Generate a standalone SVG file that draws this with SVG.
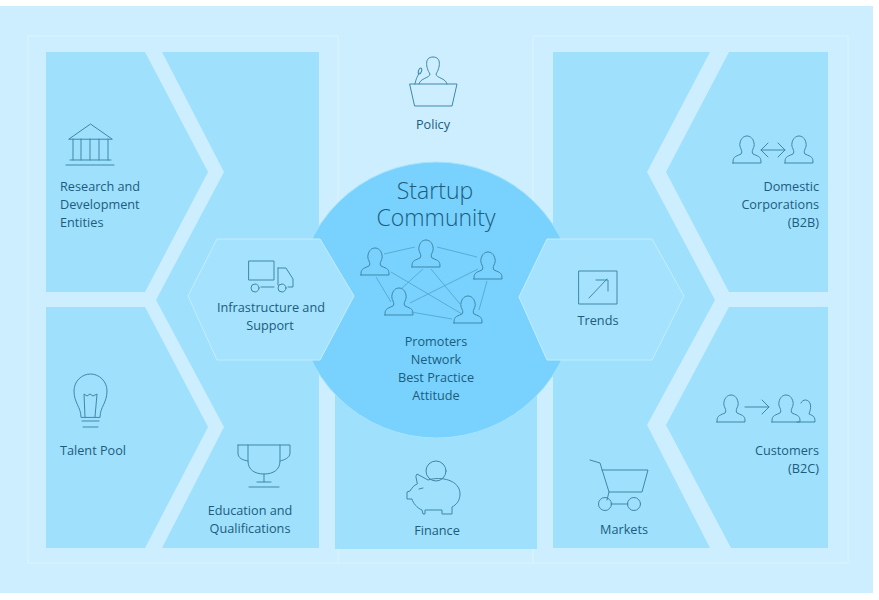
<svg xmlns="http://www.w3.org/2000/svg" width="879" height="600" viewBox="0 0 879 600">
<style>
text{font-family:"Open Sans","Noto Sans","DejaVu Sans",sans-serif;font-size:12.7px;fill:#1c5c7d}
.m{text-anchor:middle}.e{text-anchor:end}
.p{fill:#9fe0fd}
.f{fill:none;stroke:#d9f3ff;stroke-width:1}
.i{fill:none;stroke:#3f87a9;stroke-width:1;stroke-linejoin:round;stroke-linecap:round}
.c{stroke:#55a7cf;stroke-width:.9;fill:none}
.h{fill:#a4e2fd;stroke:#c4edff;stroke-width:1}
</style>
<defs>
<path id="person" d="M0 27H28C28 21 27 21 20 18C19 17 19 15 20 13C21 11 21.500 9 21 7C20 2 17 0 14 0C11 0 8 2 7 7C6.500 9 7 11 8 13C9 15 9 17 8 18C1 21 0 21 0 27Z"/>
</defs>
<rect width="879" height="600" fill="#fff"/>
<rect x="0" y="6" width="873" height="587" fill="#cdeefe"/>
<rect class="f" x="28" y="36" width="310" height="527"/>
<rect class="f" x="533" y="36" width="315" height="527"/>
<path class="f" d="M338 563H533"/>
<g id="research"><polygon class="p" points="46,52 145,52 208,172 145,292 46,292"/>
<g class="i"><path d="M69 139L90.500 124L112 139ZM73 139V160M81 139V160M90 139V160M99 139V160M108 139V160M70 160H111M66 165H114"/></g>
<text x="60" y="191">Research and</text><text x="60" y="209">Development</text><text x="60" y="227">Entities</text></g>
<g id="talent"><polygon class="p" points="46,307 145,307 208,427 145,548 46,548"/>
<g class="i"><path d="M81 417C81 407 74 403 74 391C74 381 82 374 90.500 374C99 374 107 381 107 391C107 403 100 407 100 417ZM85 417L84 394L87 396L90 394L93 396L97 394L95 417M82 421H99M83 427H98"/></g>
<text x="60" y="455">Talent Pool</text></g>
<g id="education"><polygon class="p" points="162,52 319,52 319,548 162,548 224,427 156,300 224,172"/>
<g class="i"><path d="M248 445V461C248 470 255 474 264 474C273 474 280 470 280 461V445M238 445H290V453C290 458 284 460 280 461M238 445V453C238 458 242 460 248 461M264 474V482M257 482H271M249 487H279"/></g>
<text class="m" x="250" y="515">Education and</text><text class="m" x="250" y="533">Qualifications</text></g>
<g id="markets"><polygon class="p" points="553,52 710,52 647,172 715,300 647,425 710,548 553,548"/>
<g class="i"><path d="M590 460L600 463L609 492H642L648 470H602M609 492L607 500M611 504H628"/><circle cx="605" cy="504" r="6.500"/><circle cx="634" cy="504" r="6.500"/></g>
<text class="m" x="624" y="534">Markets</text></g>
<g id="domestic"><polygon class="p" points="729,52 828,52 828,292 729,292 666,172"/>
<g class="i"><use href="#person" x="733" y="136"/><use href="#person" x="785" y="136"/><path d="M761 150H785M768 143L761 150L768 157M778 143L785 150L778 157"/></g>
<text class="e" x="819" y="191">Domestic</text><text class="e" x="819" y="209">Corporations</text><text class="e" x="819" y="227">(B2B)</text></g>
<g id="customers"><polygon class="p" points="729,307 828,307 828,548 731,548 666,425"/>
<g class="i"><use href="#person" x="717" y="395"/><use href="#person" x="772" y="395"/><path d="M797 422H815C815 417 814 416 809 414C810 411 811 408 810.500 405C810 402 808 400 805.500 400C803.500 400 802 401 801 403"/><path d="M745 407H769M762 400L769 407L762 414"/></g>
<text class="e" x="819" y="455">Customers</text><text class="e" x="819" y="473">(B2C)</text></g>
<g id="finance"><rect class="p" x="335" y="380" width="202" height="169"/>
<g class="i"><circle cx="436" cy="471" r="10"/><path d="M416 476L417 474L428 480C441 476 460 480 460 494C460 501 456 505 452 507V514H442V510H425V514H423L422 510C417 508 413 503 412 499H407V492L410 491C412 488 414 485 417 484Z"/><path d="M419 489L423 488"/></g>
<text class="m" x="437" y="535">Finance</text></g>
<g id="policy">
<g class="i"><path d="M419 84C420 78 430 78 430 74C426 68 424 57 433 57C442 57 440 68 436 74C436 78 446 78 447 84M410 84H457L452 106H415ZM415 84C416 78 418 76 419 73"/><ellipse cx="420" cy="71" rx="1.500" ry="3" transform="rotate(20 420 71)"/></g>
<text class="m" x="433" y="129">Policy</text></g>
<g id="community"><ellipse cx="436.500" cy="300" rx="139" ry="138" fill="#78d2fd" stroke="#a6e3fe" stroke-width="1"/>
<text class="m" style="font-size:23px;font-weight:300"><tspan x="435" y="199">Startup</tspan><tspan x="436" y="226">Community</tspan></text>
<g class="i"><use href="#person" x="361" y="248"/><use href="#person" x="412" y="240"/><use href="#person" x="474" y="252"/><use href="#person" x="385" y="288"/><use href="#person" x="454" y="296"/></g>
<text class="m" x="436" y="346">Promoters</text><text class="m" x="436" y="364">Network</text><text class="m" x="436" y="382">Best Practice</text><text class="m" x="436" y="400">Attitude</text></g>
<g id="connectors" class="c"><path d="M384 254L415 247M437 247L477 257M376 277L391 302M391 272L462 314M423 269L402 288M431 269L460 304M478 269L410 303M487 281L479 310M411 312L452 319"/></g>
<g id="infrastructure"><polygon class="h" points="217,239 320,239 354,296 320,360 217,360 188,296"/>
<g class="i"><rect x="249" y="261" width="25" height="19"/><path d="M278 268H286L293 279V287H288M274 287H261M278 268V285"/><circle cx="255" cy="288" r="4"/><circle cx="282" cy="288" r="4"/></g>
<text class="m" x="271" y="312">Infrastructure and</text><text class="m" x="270" y="330">Support</text></g>
<g id="trends"><polygon class="h" points="547,239 652,239 684,296 652,360 547,360 519,297"/>
<g class="i"><rect x="579" y="271" width="38" height="33"/><path d="M589 298L607 279M596 280H608V291"/></g>
<text class="m" x="598" y="325">Trends</text></g>
</svg>
